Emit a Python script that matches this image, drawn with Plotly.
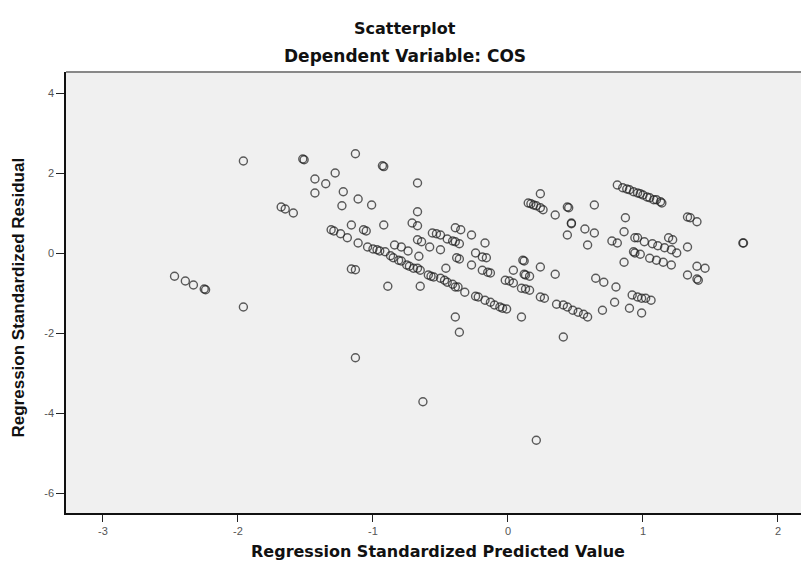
import plotly.graph_objects as go

# Regression standardized predicted values (x) and residuals (y)
x_vals = [
    -2.47, -2.39, -2.33, -2.25, -2.24, -1.96, -1.96, -1.52, -1.51, -1.68, -1.65, -1.59,
    -1.43, -1.35, -1.28, -1.43, -1.22, -1.23, -1.13, -1.11, -1.01, -0.93, -0.92, -0.67,
    -0.67, -0.71, -0.67, -1.16, -1.07, -1.05, -0.92, -0.67,
    -1.31, -1.29, -1.24, -1.19, -1.11, -1.04, -1.00, -0.97, -0.95, -0.91, -0.87, -0.85, -0.81, -0.79,
    -0.84, -0.79, -0.74, -0.66, -0.64, -0.58, -0.50, -0.38, -0.36, -0.24, -0.19, -0.16, -0.17,
    -0.27, -0.19, -0.15, -0.13,
    -0.56, -0.53, -0.50, -0.45, -0.41, -0.39, -0.36, -0.39, -0.35, -0.27,
    -0.75, -0.73, -0.70, -0.67, -0.65, -0.59, -0.57, -0.55, -0.50, -0.47, -0.45, -0.41, -0.39,
    -0.37, -0.32, -0.24, -0.22, -0.17, -0.13, -0.10, -0.06, -0.04, -0.01,
    -0.46, -0.89, -0.65, -0.39, -0.36, -1.13, -1.16, -1.13, -0.63, 0.21, 0.10, 0.41,
    0.11, 0.12, 0.04, 0.12, 0.13, 0.16, 0.24, 0.35, -0.02, 0.01, 0.04, 0.10, 0.13, 0.16, 0.24, 0.27,
    0.36, 0.41, 0.44, 0.48, 0.52, 0.56, 0.59,
    0.24, 0.15, 0.17, 0.19, 0.21, 0.24, 0.26, 0.35, 0.44, 0.45, 0.64, 0.47, 0.47, 0.44, 0.57, 0.64, 0.59,
    0.81, 0.85, 0.88, 0.90, 0.93, 0.96, 0.98, 1.00, 1.03, 1.05, 1.08, 1.10, 1.13, 1.14,
    0.87, 0.86, 0.77, 0.81, 0.94, 0.96, 0.93, 0.94, 0.98, 0.86,
    1.01, 1.07, 1.11, 1.16, 1.21, 1.25, 1.19, 1.22, 1.33,
    1.05, 1.10, 1.15, 1.21, 1.33, 1.35, 1.40, 1.33, 1.40, 1.46, 1.40, 1.41, 1.74, 1.745,
    0.65, 0.71, 0.80, 0.79, 0.70, 0.90, 0.99, 0.92, 0.96, 0.99, 1.02, 1.06,
]
y_vals = [
    -0.58, -0.70, -0.80, -0.90, -0.92, -1.35, 2.30, 2.35, 2.33, 1.15, 1.10, 1.00,
    1.85, 1.73, 2.00, 1.50, 1.53, 1.18, 2.48, 1.35, 1.20, 2.18, 2.16, 1.75,
    1.03, 0.75, 0.68, 0.70, 0.58, 0.55, 0.70, 0.33,
    0.58, 0.55, 0.48, 0.38, 0.25, 0.15, 0.10, 0.08, 0.05, 0.03, -0.07, -0.12, -0.18, -0.20,
    0.20, 0.15, 0.05, -0.08, 0.28, 0.15, 0.08, -0.12, -0.15, 0.00, -0.10, -0.12, 0.25,
    -0.30, -0.43, -0.48, -0.50,
    0.50, 0.48, 0.45, 0.35, 0.30, 0.28, 0.23, 0.63, 0.58, 0.45,
    -0.30, -0.33, -0.38, -0.38, -0.43, -0.55, -0.58, -0.60, -0.63, -0.68, -0.73, -0.78, -0.85,
    -0.85, -0.98, -1.08, -1.10, -1.18, -1.23, -1.30, -1.35, -1.38, -1.40,
    -0.38, -0.83, -0.83, -1.60, -1.98, -2.62, -0.40, -0.42, -3.72, -4.68, -1.60, -2.10,
    -0.18, -0.20, -0.43, -0.53, -0.55, -0.58, -0.35, -0.53, -0.68, -0.70, -0.75, -0.88, -0.90, -0.93, -1.10, -1.13,
    -1.28, -1.30, -1.35, -1.43, -1.48, -1.53, -1.60,
    1.48, 1.25, 1.23, 1.20, 1.18, 1.13, 1.08, 0.95, 1.15, 1.13, 1.20, 0.75, 0.73, 0.45, 0.60, 0.50, 0.20,
    1.70, 1.63, 1.60, 1.58, 1.53, 1.50, 1.48, 1.45, 1.40, 1.38, 1.33, 1.33, 1.28, 1.25,
    0.88, 0.53, 0.30, 0.25, 0.38, 0.38, 0.03, 0.00, -0.03, -0.23,
    0.28, 0.23, 0.18, 0.13, 0.08, 0.00, 0.38, 0.33, 0.15,
    -0.13, -0.18, -0.23, -0.30, 0.90, 0.88, 0.78, -0.55, -0.33, -0.38, -0.65, -0.68, 0.25, 0.25,
    -0.63, -0.73, -0.85, -1.23, -1.43, -1.38, -1.50, -1.05, -1.10, -1.13, -1.13, -1.18,
]

x_ticks = [-3, -2, -1, 0, 1, 2]
y_ticks = [-6, -4, -2, 0, 2, 4]

title_main = "Scatterplot"
title_sub = "Dependent Variable: COS"
x_title = "Regression Standardized Predicted Value"
y_title = "Regression Standardized Residual"

FONT = "Liberation Sans, Arial, sans-serif"
WIDE = "DejaVu Sans, Liberation Sans, sans-serif"

# page has an 8px body margin; figure sized to fill the rest of the window
W, H = 801, 560
ML, MT, MB = 58, 64, 55
plot_w = W - ML

fig = go.Figure()
fig.add_trace(go.Scatter(
    x=x_vals, y=y_vals, mode="markers",
    marker=dict(symbol="circle-open", size=8, color="rgba(30,30,30,0.72)",
                line=dict(width=1.4, color="rgba(30,30,30,0.72)")),
    hoverinfo="skip", showlegend=False,
))

fig.update_layout(
    width=W, height=H,
    margin=dict(l=ML, r=0, t=MT, b=MB, autoexpand=False),
    paper_bgcolor="white", plot_bgcolor="#f0f0f0",
    font=dict(family=FONT, color="#222"),
    xaxis=dict(range=[-3.274, 2.23], tickvals=x_ticks, ticktext=[str(v) for v in x_ticks],
               showgrid=False, zeroline=False, showline=True, linecolor="#111", linewidth=1.5,
               ticks="outside", ticklen=7, tickcolor="#222", tickwidth=1, automargin=False,
               tickfont=dict(size=11, color="#555", family=FONT)),
    yaxis=dict(range=[-6.5, 4.525], tickvals=y_ticks, ticktext=[str(v) for v in y_ticks],
               showgrid=False, zeroline=False, showline=True, linecolor="#111", linewidth=1.5,
               ticks="outside", ticklen=8, tickcolor="#222", tickwidth=1, automargin=False,
               tickfont=dict(size=11, color="#555", family=FONT)),
)

fig.add_shape(type="line", xref="paper", yref="paper", x0=0, x1=1, y0=1, y1=1,
              line=dict(color="#888", width=2))

center_x = (404.5 - 8 - ML) / plot_w
fig.add_annotation(text="<b>" + title_main + "</b>", xref="paper", yref="paper",
                   x=center_x, y=1, xanchor="center", yanchor="middle", yshift=44, showarrow=False,
                   font=dict(size=16, color="#111", family=WIDE))
fig.add_annotation(text="<b>" + title_sub + "</b>", xref="paper", yref="paper",
                   x=center_x, y=1, xanchor="center", yanchor="middle", yshift=16, showarrow=False,
                   font=dict(size=17, color="#111", family=WIDE))
fig.add_annotation(text="<b>" + x_title + "</b>", xref="paper", yref="paper",
                   x=0.5, y=0, xanchor="center", yanchor="middle", yshift=-38, showarrow=False,
                   font=dict(size=16, color="#111", family=WIDE))
fig.add_annotation(text="<b>" + y_title + "</b>", xref="paper", yref="paper",
                   x=0, y=0.5, xanchor="center", yanchor="middle", xshift=-48, yshift=-5,
                   textangle=-90, showarrow=False, font=dict(size=17, color="#111", family=FONT))

fig.write_html("out.html")
